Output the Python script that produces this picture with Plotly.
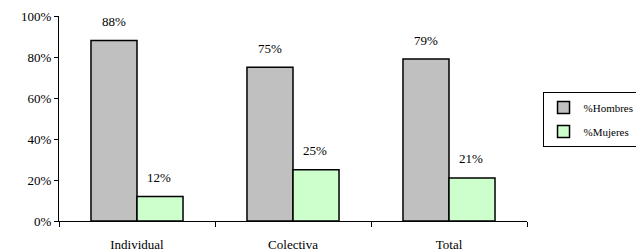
import plotly.graph_objects as go

categories = ["Individual", "Colectiva", "Total"]
hombres = [88, 75, 79]
mujeres = [12, 25, 21]
hombres_labels = ["88%", "75%", "79%"]
mujeres_labels = ["12%", "25%", "21%"]
y_ticks = [0, 20, 40, 60, 80, 100]
y_tick_labels = ["0%", "20%", "40%", "60%", "80%", "100%"]

FONT = "Liberation Serif"

fig = go.Figure()
fig.add_trace(go.Bar(
    x=categories, y=hombres, name="%Hombres",
    marker=dict(color="#C0C0C0", line=dict(color="black", width=1.5)),
    legendgroup="h",
))
fig.add_trace(go.Bar(
    x=categories, y=mujeres, name="%Mujeres",
    marker=dict(color="#CCFFCC", line=dict(color="black", width=1.5)),
    legendgroup="m",
))

annotations = []
for c, v, t in zip(categories, hombres, hombres_labels):
    annotations.append(dict(x=c, y=v, text=t, xref="x", yref="y", showarrow=False,
                            xshift=-23, yshift=19, yanchor="middle",
                            font=dict(family=FONT, size=13, color="black")))
for c, v, t in zip(categories, mujeres, mujeres_labels):
    annotations.append(dict(x=c, y=v, text=t, xref="x", yref="y", showarrow=False,
                            xshift=22, yshift=19, yanchor="middle",
                            font=dict(family=FONT, size=13, color="black")))

fig.update_layout(
    width=644, height=252,
    margin=dict(l=51, r=125, t=8, b=39, autoexpand=False),
    paper_bgcolor="white", plot_bgcolor="white",
    barmode="group", bargap=0.41, bargroupgap=0,
    font=dict(family=FONT, size=13, color="black"),
    annotations=annotations,
    legend=dict(
        xref="container", yref="container",
        x=0.83, y=0.667, xanchor="left", yanchor="top",
        bordercolor="black", borderwidth=1,
        font=dict(family=FONT, size=11, color="black"),
        traceorder="grouped", tracegroupgap=5,
        itemwidth=30,
    ),
    xaxis=dict(
        showline=True, linecolor="black", linewidth=1,
        ticks="outside", ticklen=5, tickcolor="black", tickson="boundaries",
        showgrid=False, ticklabelstandoff=11, automargin=False,
        tickfont=dict(family=FONT, size=13),
    ),
    yaxis=dict(
        range=[0, 100], tickvals=y_ticks, ticktext=y_tick_labels,
        showline=True, linecolor="black", linewidth=1,
        ticks="outside", ticklen=4, tickcolor="black",
        showgrid=False, zeroline=False, automargin=False,
        tickfont=dict(family=FONT, size=13),
    ),
)

fig.write_html("out.html")
